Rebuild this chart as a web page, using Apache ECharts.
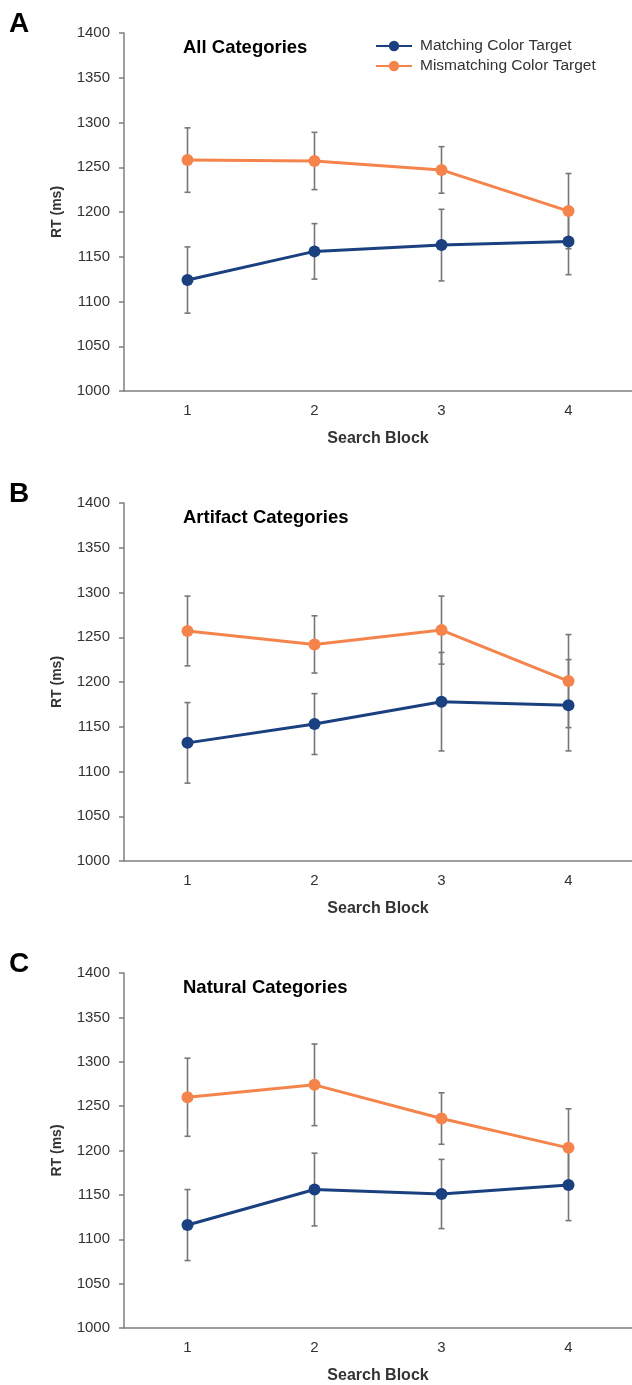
<!DOCTYPE html>
<html>
<head>
<meta charset="utf-8">
<script src="https://cdn.jsdelivr.net/npm/echarts@6/dist/echarts.min.js"></script>
<style>
html,body{margin:0;padding:0;background:#fff;}
#chart{width:632px;height:1385px;}
</style>
</head>
<body>
<div id="chart"></div>
<script>
// ---- data ----
const blocks = ['1', '2', '3', '4'];
const yTicks = [1000, 1050, 1100, 1150, 1200, 1250, 1300, 1350, 1400];
const seriesNames = ['Matching Color Target', 'Mismatching Color Target'];
const panelTitles = ['All Categories', 'Artifact Categories', 'Natural Categories'];
const panelLetters = ['A', 'B', 'C'];

const allMatch = [1124, 1156, 1163, 1167];
const allMatchErr = [37, 31, 40, 37];
const allMismatch = [1258, 1257, 1247, 1201];
const allMismatchErr = [36, 32, 26, 42];

const artMatch = [1132, 1153, 1178, 1174];
const artMatchErr = [45, 34, 55, 51];
const artMismatch = [1257, 1242, 1258, 1201];
const artMismatchErr = [39, 32, 38, 52];

const natMatch = [1116, 1156, 1151, 1161];
const natMatchErr = [40, 41, 39, 40];
const natMismatch = [1260, 1274, 1236, 1203];
const natMismatchErr = [44, 46, 29, 44];

// ---- build ----
const panels = [
  {match: allMatch, matchErr: allMatchErr, mis: allMismatch, misErr: allMismatchErr},
  {match: artMatch, matchErr: artMatchErr, mis: artMismatch, misErr: artMismatchErr},
  {match: natMatch, matchErr: natMatchErr, mis: natMismatch, misErr: natMismatchErr}
];
const BLUE = '#1a4080';
const ORANGE = '#f5844c';
const AXIS = '#7f7f7f';
const FONT = 'Liberation Sans, Arial, sans-serif';
const gridTops = [33, 503, 973];
const gridH = 358;

const grids = [], xAxes = [], yAxes = [], series = [], titles = [];

function errBar(params, api) {
  const x = api.value(0), v = api.value(1), e = api.value(2);
  const t = api.coord([x, v + e]);
  const b = api.coord([x, v - e]);
  const w = 3;
  const st = {stroke: '#777777', lineWidth: 1.6};
  return {type: 'group', children: [
    {type: 'line', shape: {x1: t[0], y1: t[1], x2: b[0], y2: b[1]}, style: st},
    {type: 'line', shape: {x1: t[0] - w, y1: t[1], x2: t[0] + w, y2: t[1]}, style: st},
    {type: 'line', shape: {x1: b[0] - w, y1: b[1], x2: b[0] + w, y2: b[1]}, style: st}
  ]};
}

panels.forEach((p, i) => {
  grids.push({left: 124, top: gridTops[i], width: 512, height: gridH, containLabel: false});
  xAxes.push({
    type: 'category', gridIndex: i, data: blocks, boundaryGap: true,
    name: 'Search Block', nameLocation: 'middle', nameGap: 40,
    nameTextStyle: {fontFamily: FONT, fontSize: 16, fontWeight: 'bold', color: '#333'},
    axisLine: {lineStyle: {color: AXIS, width: 1.5}},
    axisTick: {alignWithLabel: true, length: 5, lineStyle: {color: AXIS, width: 1.5}},
    axisLabel: {fontFamily: FONT, fontSize: 15, color: '#333', margin: 12},
    splitLine: {show: false}
  });
  yAxes.push({
    type: 'value', gridIndex: i, min: yTicks[0], max: yTicks[yTicks.length - 1], interval: yTicks[1] - yTicks[0],
    name: 'RT (ms)', nameLocation: 'middle', nameGap: 60, nameRotate: 90,
    nameTextStyle: {fontFamily: FONT, fontSize: 14, fontWeight: 'bold', color: '#333'},
    axisLine: {show: true, lineStyle: {color: AXIS, width: 1.5}},
    axisTick: {show: true, length: 5, lineStyle: {color: AXIS, width: 1.5}},
    axisLabel: {fontFamily: FONT, fontSize: 15, color: '#333', margin: 14, formatter: v => String(v)},
    splitLine: {show: false}
  });
  const mkErr = (vals, errs) => vals.map((v, k) => [k, v, errs[k]]);
  series.push({type: 'custom', xAxisIndex: i, yAxisIndex: i, renderItem: errBar,
    data: mkErr(p.match, p.matchErr), encode: {x: 0, y: 1}, z: 1, silent: true});
  series.push({type: 'custom', xAxisIndex: i, yAxisIndex: i, renderItem: errBar,
    data: mkErr(p.mis, p.misErr), encode: {x: 0, y: 1}, z: 1, silent: true});
  series.push({type: 'line', name: seriesNames[0], xAxisIndex: i, yAxisIndex: i, data: p.match,
    symbol: 'circle', symbolSize: 12, z: 3,
    lineStyle: {color: BLUE, width: 3}, itemStyle: {color: BLUE}});
  series.push({type: 'line', name: seriesNames[1], xAxisIndex: i, yAxisIndex: i, data: p.mis,
    symbol: 'circle', symbolSize: 12, z: 3,
    lineStyle: {color: ORANGE, width: 3}, itemStyle: {color: ORANGE}});
  titles.push({text: panelTitles[i], left: 183, top: gridTops[i] + 5, padding: 0,
    textStyle: {fontFamily: FONT, fontSize: 18.5, fontWeight: 'bold', color: '#000'}});
  titles.push({text: panelLetters[i], left: 9, top: gridTops[i] - 23, padding: 0,
    textStyle: {fontFamily: FONT, fontSize: 28, fontWeight: 'bold', color: '#000'}});
});

const chart = echarts.init(document.getElementById('chart'), null, {renderer: 'canvas'});
chart.setOption({
  animation: false,
  backgroundColor: '#fff',
  title: titles,
  legend: {
    data: seriesNames, orient: 'vertical', left: 375, top: 38, padding: 0,
    itemWidth: 36, itemHeight: 13, itemGap: 4,
    textStyle: {fontFamily: FONT, fontSize: 15.5, color: '#333', padding: [0, 0, 0, 3]}
  },
  grid: grids,
  xAxis: xAxes,
  yAxis: yAxes,
  series: series
});
</script>
</body>
</html>
